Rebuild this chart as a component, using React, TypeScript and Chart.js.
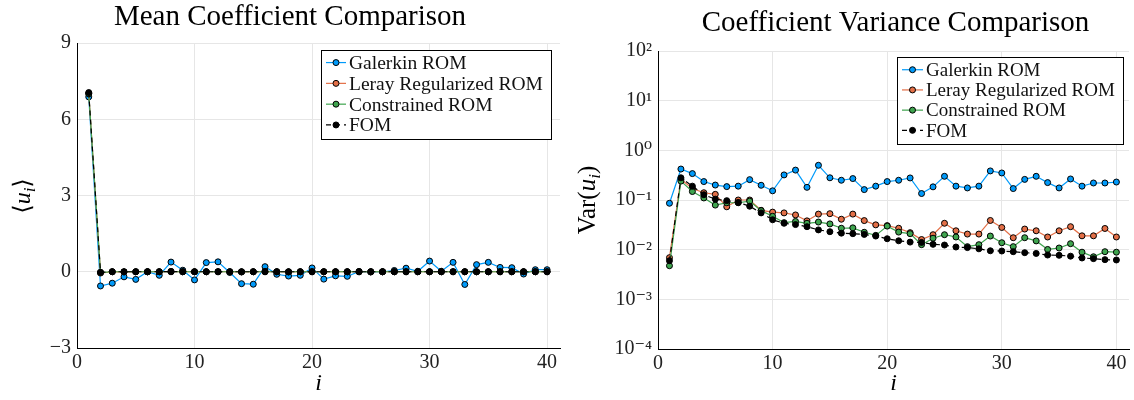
import React, { useEffect, useRef } from "react";
import { Chart, registerables } from "chart.js";

Chart.register(...registerables);

// ---------- data ----------
const modeIndex = [1, 2, 3, 4, 5, 6, 7, 8, 9, 10, 11, 12, 13, 14, 15, 16, 17, 18, 19, 20, 21, 22, 23, 24, 25, 26, 27, 28, 29, 30, 31, 32, 33, 34, 35, 36, 37, 38, 39, 40];

const seriesNames = ["Galerkin ROM", "Leray Regularized ROM", "Constrained ROM", "FOM"];

const meanGalerkin = [6.88, -0.56, -0.45, -0.2, -0.3, 0.0, -0.14, 0.38, 0.06, -0.32, 0.36, 0.39, -0.03, -0.47, -0.49, 0.2, -0.1, -0.17, -0.14, 0.15, -0.29, -0.16, -0.18, 0.01, -0.01, 0.0, 0.05, 0.14, 0.02, 0.42, 0.02, 0.37, -0.5, 0.28, 0.37, 0.17, 0.16, -0.09, 0.08, 0.08];
const meanLeray = [7.02, -0.05, 0.0, -0.01, 0.0, 0.0, 0.0, 0.01, 0.0, 0.0, 0.0, 0.0, 0.0, -0.01, 0.0, 0.01, 0.0, -0.01, 0.0, 0.0, 0.0, 0.0, 0.0, 0.0, 0.0, 0.0, 0.0, 0.0, 0.0, 0.0, 0.0, 0.0, 0.0, 0.0, 0.0, 0.0, 0.0, 0.0, 0.0, 0.0];
const meanConstrained = [7.0, -0.03, 0.0, 0.0, 0.0, 0.0, 0.0, 0.0, 0.0, 0.0, 0.0, 0.0, 0.0, 0.0, 0.0, 0.0, 0.0, 0.0, 0.0, 0.0, 0.0, 0.0, 0.0, 0.0, 0.0, 0.0, 0.0, 0.0, 0.0, 0.0, 0.0, 0.0, 0.0, 0.0, 0.0, 0.0, 0.0, 0.0, 0.0, 0.0];
const meanFom = [7.05, -0.02, 0.0, 0.0, 0.0, 0.0, 0.0, 0.01, 0.0, 0.0, 0.0, 0.0, 0.0, 0.0, 0.0, 0.0, 0.0, 0.0, 0.0, 0.0, 0.0, 0.0, 0.0, 0.0, 0.0, 0.0, 0.0, 0.0, 0.0, 0.0, 0.0, 0.0, 0.0, 0.0, 0.0, 0.0, 0.0, 0.0, 0.0, 0.0];

const varGalerkin = [0.086, 0.42, 0.34, 0.235, 0.2, 0.186, 0.19, 0.257, 0.198, 0.153, 0.32, 0.4, 0.18, 0.5, 0.28, 0.25, 0.27, 0.162, 0.19, 0.235, 0.25, 0.278, 0.135, 0.184, 0.3, 0.19, 0.175, 0.19, 0.385, 0.35, 0.17, 0.26, 0.3, 0.224, 0.175, 0.265, 0.19, 0.22, 0.22, 0.23];
const varLeray = [0.0069, 0.26, 0.17, 0.14, 0.13, 0.073, 0.1, 0.1, 0.062, 0.057, 0.055, 0.05, 0.038, 0.052, 0.053, 0.041, 0.052, 0.0385, 0.0316, 0.0305, 0.027, 0.022, 0.016, 0.02, 0.034, 0.024, 0.0206, 0.0206, 0.0387, 0.028, 0.0174, 0.026, 0.024, 0.018, 0.024, 0.029, 0.019, 0.019, 0.0267, 0.018];
const varConstrained = [0.00475, 0.24, 0.148, 0.11, 0.079, 0.088, 0.088, 0.095, 0.061, 0.047, 0.035, 0.037, 0.034, 0.036, 0.033, 0.027, 0.0275, 0.0224, 0.0194, 0.0298, 0.0226, 0.021, 0.0126, 0.017, 0.02, 0.018, 0.0115, 0.0126, 0.0188, 0.0138, 0.0115, 0.0174, 0.015, 0.0101, 0.0108, 0.0132, 0.0089, 0.0072, 0.0091, 0.0089];
const varFom = [0.006, 0.28, 0.19, 0.128, 0.104, 0.097, 0.089, 0.075, 0.055, 0.04, 0.034, 0.032, 0.029, 0.025, 0.023, 0.0215, 0.021, 0.0203, 0.0188, 0.0166, 0.0151, 0.0142, 0.014, 0.0128, 0.0124, 0.0113, 0.011, 0.0104, 0.0095, 0.0094, 0.0091, 0.0087, 0.0084, 0.0078, 0.0077, 0.0074, 0.0068, 0.0066, 0.0063, 0.0062];

const xTickValues = [0, 10, 20, 30, 40];
const meanTickValues = [-3, 0, 3, 6, 9];
const varTickExponents = [-4, -3, -2, -1, 0, 1, 2];

// ---------- style ----------
const SERIF = "'Liberation Serif', 'DejaVu Serif', serif";
const COLORS = ["#009AFA", "#E36F47", "#3EA44E", "#000000"];
const GRID = "#e6e6e6";
const TICK_COLOR = "#222";

const SUP: Record<string, string> = { "-": "\u207B", "0": "\u2070", "1": "\u00B9", "2": "\u00B2", "3": "\u00B3", "4": "\u2074" };
const toSup = (s: string) => s.split("").map((c) => SUP[c] || c).join("");

type Seg = { t: string; italic?: boolean; sub?: boolean };

const decoPlugin = {
  id: "deco",
  afterDraw(chart: any, _args: any, opts: any) {
    const ctx: CanvasRenderingContext2D = chart.ctx;
    ctx.save();
    // title
    ctx.fillStyle = "#000";
    ctx.textAlign = "center";
    ctx.textBaseline = "alphabetic";
    ctx.font = `${opts.titleSize}px ${SERIF}`;
    ctx.fillText(opts.title, opts.titleX, opts.titleY);

    // y label (rich, rotated)
    const size = opts.ylabelSize;
    const segs: Seg[] = opts.ylabel;
    const fontFor = (s: Seg) => `${s.italic ? "italic " : ""}${s.sub ? size * 0.7 : size}px ${SERIF}`;
    let total = 0;
    const widths = segs.map((s) => {
      ctx.font = fontFor(s);
      const w = ctx.measureText(s.t).width;
      total += w;
      return w;
    });
    ctx.save();
    ctx.translate(opts.ylabelX, opts.ylabelY);
    ctx.rotate(-Math.PI / 2);
    ctx.textAlign = "left";
    let cx = -total / 2;
    const base = size * 0.33;
    segs.forEach((s, k) => {
      ctx.font = fontFor(s);
      ctx.fillText(s.t, cx, base + (s.sub ? size * 0.2 : 0));
      cx += widths[k];
    });
    ctx.restore();

    // legend
    const lg = opts.legend;
    ctx.fillStyle = "#fff";
    ctx.fillRect(lg.x, lg.y, lg.w, lg.h);
    ctx.strokeStyle = "#000";
    ctx.lineWidth = 1;
    ctx.strokeRect(lg.x + 0.5, lg.y + 0.5, lg.w, lg.h);
    chart.data.datasets.forEach((ds: any, k: number) => {
      const baseY = lg.firstBaseline + k * lg.rowGap;
      const cy = baseY - lg.fontSize * 0.33;
      ctx.save();
      ctx.strokeStyle = ds.borderColor;
      ctx.lineWidth = ds.borderWidth;
      ctx.setLineDash(ds.borderDash || []);
      ctx.beginPath();
      ctx.moveTo(lg.lineX0, cy);
      ctx.lineTo(lg.lineX1, cy);
      ctx.stroke();
      ctx.setLineDash([]);
      ctx.beginPath();
      ctx.arc((lg.lineX0 + lg.lineX1) / 2, cy, 3, 0, Math.PI * 2);
      ctx.fillStyle = ds.pointBackgroundColor;
      ctx.fill();
      ctx.strokeStyle = "#000";
      ctx.lineWidth = 1;
      ctx.stroke();
      ctx.restore();
      ctx.fillStyle = "#111";
      ctx.textAlign = "left";
      ctx.textBaseline = "alphabetic";
      ctx.font = `${lg.fontSize}px ${SERIF}`;
      ctx.fillText(ds.label, lg.textX, baseY);
    });
    ctx.restore();
  },
};

function makeDatasets(values: number[][]) {
  return values.map((vals, k) => ({
    label: seriesNames[k],
    data: modeIndex.map((x, j) => ({ x, y: vals[j] })),
    borderColor: COLORS[k],
    backgroundColor: COLORS[k],
    borderWidth: 1.2,
    borderDash: k === 3 ? [5, 4] : [],
    pointRadius: 3,
    pointBorderWidth: 1,
    pointBorderColor: "#000",
    pointBackgroundColor: COLORS[k],
    order: 4 - k,
    tension: 0,
  }));
}

const tickFont = { family: SERIF, size: 20 };

function xScale(height: number) {
  return {
    type: "linear",
    min: 0,
    max: 41.1,
    afterBuildTicks: (s: any) => {
      s.ticks = xTickValues.map((v) => ({ value: v }));
    },
    afterFit: (s: any) => {
      s.height = height;
    },
    grid: { color: GRID, drawTicks: false },
    border: { color: "#000", width: 1 },
    ticks: { font: tickFont, color: TICK_COLOR, padding: 3, maxRotation: 0 },
    title: {
      display: true,
      text: "i",
      color: "#000",
      font: { family: SERIF, size: 24, style: "italic" },
      padding: { top: 0, bottom: 2 },
    },
  };
}

function ChartBox({ config, left }: { config: any; left: number }) {
  const ref = useRef<HTMLCanvasElement | null>(null);
  useEffect(() => {
    if (!ref.current) return;
    const chart = new Chart(ref.current, config);
    return () => chart.destroy();
  }, []);
  return (
    <div style={{ position: "absolute", left, top: 0, width: 567, height: 400 }}>
      <canvas ref={ref} width={567} height={400} style={{ width: 567, height: 400, display: "block" }} />
    </div>
  );
}

const meanConfig = {
  type: "line",
  data: { datasets: makeDatasets([meanGalerkin, meanLeray, meanConstrained, meanFom]) },
  plugins: [decoPlugin],
  options: {
    animation: false,
    responsive: false,
    devicePixelRatio: 1,
    layout: { padding: { top: 43, right: 7, left: 0, bottom: 0 } },
    scales: {
      x: xScale(52),
      y: {
        type: "linear",
        min: -3,
        max: 9,
        afterBuildTicks: (s: any) => {
          s.ticks = meanTickValues.map((v) => ({ value: v }));
        },
        afterFit: (s: any) => {
          s.width = 77;
        },
        grid: { color: GRID, drawTicks: false },
        border: { color: "#000", width: 1 },
        ticks: {
          font: tickFont,
          color: TICK_COLOR,
          padding: 6,
          callback: (v: number) => (v < 0 ? "\u2212" + Math.abs(v) : String(v)),
        },
      },
    },
    plugins: {
      legend: { display: false },
      tooltip: { enabled: false },
      deco: {
        title: "Mean Coefficient Comparison",
        titleSize: 29,
        titleX: 290,
        titleY: 25,
        ylabel: [{ t: "\u27E8" }, { t: "u", italic: true }, { t: "i", italic: true, sub: true }, { t: "\u27E9" }],
        ylabelSize: 24,
        ylabelX: 22,
        ylabelY: 196,
        legend: {
          x: 321,
          y: 50,
          w: 230,
          h: 89,
          fontSize: 19.5,
          firstBaseline: 69,
          rowGap: 20.8,
          lineX0: 326,
          lineX1: 346,
          textX: 349,
        },
      },
    },
  },
};

const varConfig = {
  type: "line",
  data: { datasets: makeDatasets([varGalerkin, varLeray, varConstrained, varFom]) },
  plugins: [decoPlugin],
  options: {
    animation: false,
    responsive: false,
    devicePixelRatio: 1,
    layout: { padding: { top: 51, right: 1, left: 0, bottom: 0 } },
    scales: {
      x: xScale(51),
      y: {
        type: "logarithmic",
        min: 1e-4,
        max: 1e2,
        afterBuildTicks: (s: any) => {
          s.ticks = varTickExponents.map((e) => ({ value: Math.pow(10, e) }));
        },
        afterFit: (s: any) => {
          s.width = 91;
        },
        grid: { color: GRID, drawTicks: false },
        border: { color: "#000", width: 1 },
        ticks: {
          font: tickFont,
          color: TICK_COLOR,
          padding: 6,
          callback: (v: number) => "10" + toSup(String(Math.round(Math.log10(v)))),
        },
      },
    },
    plugins: {
      legend: { display: false },
      tooltip: { enabled: false },
      deco: {
        title: "Coefficient Variance Comparison",
        titleSize: 29,
        titleX: 328.5,
        titleY: 31,
        ylabel: [{ t: "Var(" }, { t: "u", italic: true }, { t: "i", italic: true, sub: true }, { t: ")" }],
        ylabelSize: 25,
        ylabelX: 20,
        ylabelY: 200,
        legend: {
          x: 330,
          y: 57,
          w: 226,
          h: 87,
          fontSize: 19,
          firstBaseline: 76,
          rowGap: 20.2,
          lineX0: 335,
          lineX1: 356,
          textX: 359,
        },
      },
    },
  },
};

export default function App() {
  return (
    <div style={{ position: "fixed", left: 0, top: 0, width: 1134, height: 400, background: "#fff" }}>
      <ChartBox config={meanConfig} left={0} />
      <ChartBox config={varConfig} left={567} />
    </div>
  );
}
